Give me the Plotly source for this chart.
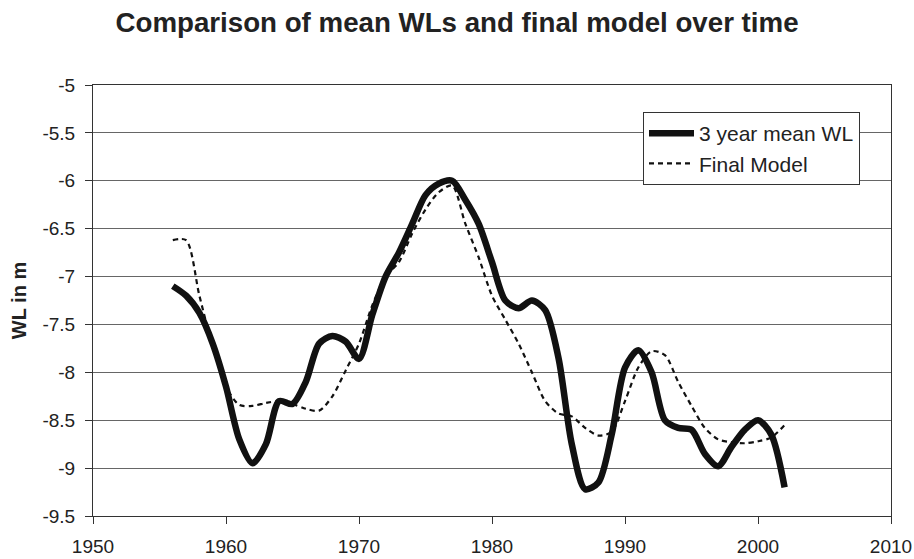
import plotly.graph_objects as go

# annual values
years = list(range(1956, 2003))

mean_wl = [-7.10, -7.20, -7.38, -7.70, -8.15, -8.70, -8.95, -8.75, -8.30, -8.33,
           -8.10, -7.70, -7.62, -7.68, -7.86, -7.40, -7.00, -6.75, -6.45, -6.15,
           -6.03, -6.00, -6.20, -6.45, -6.85, -7.25, -7.33, -7.25, -7.35, -7.85,
           -8.75, -9.22, -9.15, -8.65, -7.95, -7.77, -8.00, -8.50, -8.58, -8.60,
           -8.85, -8.98, -8.78, -8.60, -8.50, -8.65, -9.20]

final_model = [-6.62, -6.62, -7.20, -7.73, -8.15, -8.34, -8.35, -8.32, -8.30, -8.33,
               -8.38, -8.40, -8.25, -7.98, -7.70, -7.30, -7.00, -6.85, -6.55, -6.30,
               -6.12, -6.05, -6.45, -6.80, -7.20, -7.45, -7.70, -8.00, -8.30, -8.43,
               -8.46, -8.58, -8.66, -8.62, -8.30, -7.95, -7.78, -7.82, -8.10, -8.35,
               -8.58, -8.70, -8.73, -8.74, -8.72, -8.68, -8.55]

y_ticks = [-9.5, -9, -8.5, -8, -7.5, -7, -6.5, -6, -5.5, -5]
y_labels = ["-9.5", "-9", "-8.5", "-8", "-7.5", "-7", "-6.5", "-6", "-5.5", "-5"]
x_ticks = [1950, 1960, 1970, 1980, 1990, 2000, 2010]

font_family = "Liberation Sans, Arial, sans-serif"

fig = go.Figure()

fig.add_trace(go.Scatter(
    x=years, y=mean_wl,
    mode="lines",
    name="3 year mean WL",
    line=dict(color="#111111", width=6.5, shape="spline", smoothing=0.8),
))

fig.add_trace(go.Scatter(
    x=years, y=final_model,
    mode="lines",
    name="Final Model",
    line=dict(color="#111111", width=2.2, dash="5px,4px", shape="spline", smoothing=0.8),
))

fig.update_layout(
    width=914, height=559,
    margin=dict(l=93, r=23, t=85, b=43),
    paper_bgcolor="white",
    plot_bgcolor="white",
    font=dict(family=font_family, size=19, color="#222222"),
    title=dict(
        text="<b>Comparison of mean WLs and final model over time</b>",
        x=0.5, xanchor="center",
        y=1 - 22 / 559, yanchor="middle",
        font=dict(size=27.7, color="#222222"),
    ),
    xaxis=dict(
        range=[1950, 2010],
        tickvals=x_ticks,
        ticks="outside", ticklen=7, tickcolor="#333333",
        showgrid=False,
        showline=True, linecolor="#333333", linewidth=1, mirror=True,
        ticklabelstandoff=6,
        zeroline=False,
        automargin=False,
    ),
    yaxis=dict(
        range=[-9.5, -5],
        tickvals=y_ticks, ticktext=y_labels,
        ticks="outside", ticklen=7, tickcolor="#333333",
        showgrid=True, gridcolor="#666666", gridwidth=1,
        showline=True, linecolor="#333333", linewidth=1, mirror=True,
        ticklabelstandoff=6,
        zeroline=False,
        automargin=False,
        title=dict(text="<b>WL in m</b>", font=dict(size=20), standoff=10),
    ),
    legend=dict(
        x=(643 - 93) / 798, y=(516 - 112) / 431,
        xanchor="left", yanchor="top",
        bgcolor="white", bordercolor="#333333", borderwidth=1,
        font=dict(size=21),
        itemwidth=45,
        tracegroupgap=0,
    ),
    showlegend=True,
)

# the page's default body margin would shift the figure by 8px
fig.write_html("out.html", config={"displayModeBar": False},
               post_script="document.body.style.margin='0';")
